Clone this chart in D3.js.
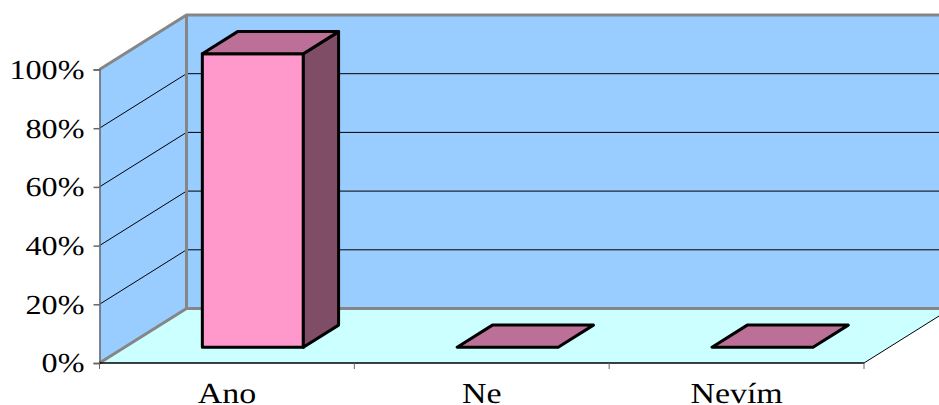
<!DOCTYPE html>
<html>
<head>
<meta charset="utf-8">
<script src="https://cdn.jsdelivr.net/npm/d3@7"></script>
<style>
html, body { margin: 0; padding: 0; background: #fff; overflow: hidden; }
text { text-rendering: geometricPrecision; }
</style>
</head>
<body>
<div id="chart"></div>
<script>
const width = 939, height = 405;

const categories = ["Ano", "Ne", "Nevím"];
const values = [100, 0, 0];
const yTicks = [0, 20, 40, 60, 80, 100];

// plot front edge
const left = 99.5, right = 864, bottom = 363, top100 = 69.5;
// 3d offset of the whole box, and where the bars sit inside it
const depthX = 87, depthY = -54.5;
const barDepthStart = 0.29, barDepthSize = 0.405;
const barWidth = 101;

const x = d3.scaleBand().domain(categories).range([left, right]);
const y = d3.scaleLinear().domain([0, 100]).range([bottom, top100]);

// shift a front-plane point back by d (0..1)
const pt = (px, py, d) => [px + depthX * d, py + depthY * d];
const poly = pts => pts.map(p => p.join(",")).join(" ");

const svg = d3.select("#chart").append("svg")
    .attr("width", width)
    .attr("height", height)
    .style("display", "block");

// floor
svg.append("polygon")
    .attr("points", poly([pt(left, bottom, 0), pt(right, bottom, 0), pt(right, bottom, 1), pt(left, bottom, 1)]))
    .attr("fill", "#CCFFFF");

// side wall
svg.append("polygon")
    .attr("points", poly([pt(left, bottom, 0), pt(left, top100, 0), pt(left, top100, 1), pt(left, bottom, 1)]))
    .attr("fill", "#99CCFF");

// back wall
svg.append("polygon")
    .attr("points", poly([pt(left, bottom, 1), pt(left, top100, 1), pt(right, top100, 1), pt(right, bottom, 1)]))
    .attr("fill", "#99CCFF");

// gridlines
let grid = svg.append("g").attr("fill", "none");
grid.selectAll("polyline")
    .data(yTicks.filter(d => d > 0))
    .join("polyline")
        .attr("points", d => poly([pt(left, y(d), 0), pt(left, y(d), 1), pt(right, y(d), 1)]))
        .attr("stroke", "#000")
        .attr("stroke-width", 1);

// grey frame of the walls
let frame = svg.append("g").attr("fill", "none").attr("stroke", "#868686").attr("stroke-width", 3);
frame.append("polyline")
    .attr("points", poly([pt(left, top100, 0), pt(left, top100, 1), pt(right, top100, 1)]));
frame.append("polyline")
    .attr("points", poly([pt(left, bottom, 0), pt(left, bottom, 1), pt(right, bottom, 1)]));
frame.append("line")
    .attr("x1", pt(left, top100, 1)[0]).attr("y1", pt(left, top100, 1)[1])
    .attr("x2", pt(left, bottom, 1)[0]).attr("y2", pt(left, bottom, 1)[1]);

// right edge of floor
svg.append("line")
    .attr("x1", right).attr("y1", bottom)
    .attr("x2", pt(right, bottom, 1)[0]).attr("y2", pt(right, bottom, 1)[1])
    .attr("stroke", "#000");

// bars
let bars = svg.append("g")
    .attr("stroke", "#000")
    .attr("stroke-width", 3)
    .attr("stroke-linejoin", "round");

categories.forEach((c, i) => {
    let xl = x(c) + x.bandwidth() / 2 - barWidth / 2 + 0.7;
    let xr = xl + barWidth;
    let yb = y(0), yt = y(values[i]);
    let d0 = barDepthStart, d1 = barDepthStart + barDepthSize;
    if (values[i] > 0) {
        bars.append("polygon")
            .attr("points", poly([pt(xl, yb, d0), pt(xr, yb, d0), pt(xr, yt, d0), pt(xl, yt, d0)]))
            .attr("fill", "#FF99CC");
        bars.append("polygon")
            .attr("points", poly([pt(xr, yb, d0), pt(xr, yb, d1), pt(xr, yt, d1), pt(xr, yt, d0)]))
            .attr("fill", "#804D66");
    }
    bars.append("polygon")
        .attr("points", poly([pt(xl, yt, d0), pt(xr, yt, d0), pt(xr, yt, d1), pt(xl, yt, d1)]))
        .attr("fill", "#BC7098");
});

// axes
let yAxis = svg.append("g")
    .attr("transform", `translate(${left},0)`)
    .call(d3.axisLeft(y).tickValues(yTicks).tickFormat(d => d + "%").tickSize(6).tickPadding(9));
yAxis.select(".domain").attr("stroke", "#666").attr("stroke-width", 1.5);
yAxis.selectAll(".tick line").attr("stroke", "#666").attr("stroke-width", 1.5);

let xAxis = svg.append("g")
    .attr("transform", `translate(0,${bottom})`)
    .call(d3.axisBottom(x).tickSize(0).tickPadding(19));
xAxis.select(".domain").attr("stroke", "#000").attr("stroke-width", 1.5).attr("d", `M${left},0H${right}`);

// ticks between categories, not at the centres
xAxis.selectAll(".edge")
    .data(categories.map(c => x(c)).concat([right]))
    .join("line")
        .attr("class", "edge")
        .attr("x1", d => d).attr("x2", d => d)
        .attr("y1", 0).attr("y2", 6)
        .attr("stroke", "#666");

// text in the original is a bit wider than the font
function styleLabels(sel, size, stretch) {
    sel.selectAll(".tick text")
        .attr("font-family", "'Liberation Serif', serif")
        .attr("font-size", size)
        .attr("fill", "#000")
        .each(function() {
            let t = d3.select(this);
            let tx = +t.attr("x") || 0;
            t.attr("x", tx / stretch).attr("transform", `scale(${stretch},1)`);
        });
}
styleLabels(yAxis, 27.5, 1.17);
styleLabels(xAxis, 29, 1.17);
</script>
</body>
</html>
